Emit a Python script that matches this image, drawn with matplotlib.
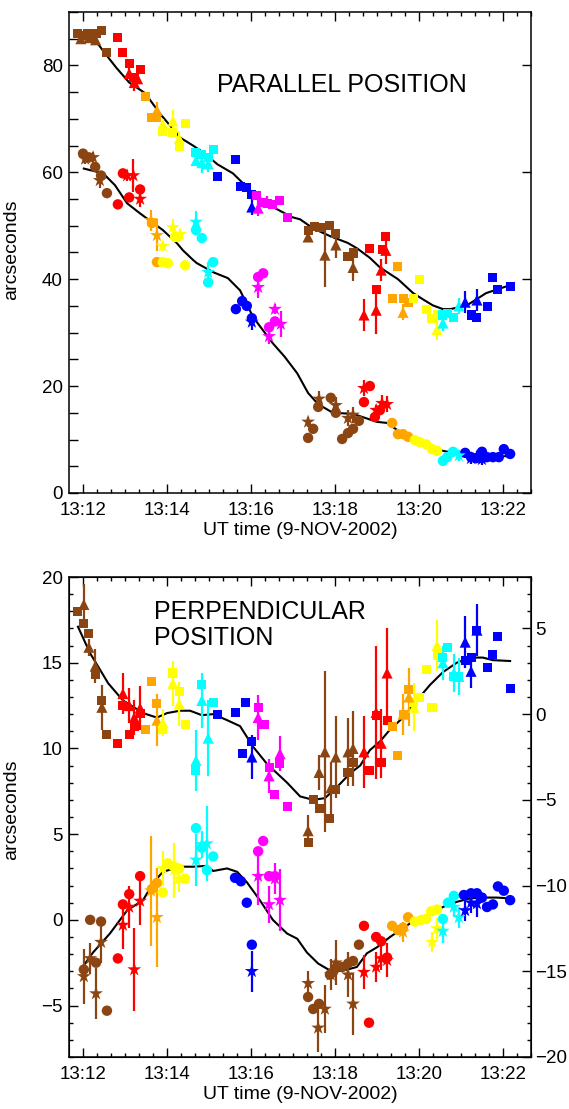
import numpy as np
import matplotlib.pyplot as plt
from matplotlib.ticker import MultipleLocator, FuncFormatter

plt.rcParams['font.family'] = ['Liberation Sans', 'DejaVu Sans']

# all times are minutes after 13:00 UT
# colour of a point follows the time segment it falls in
seg_edges = [12.7, 13.43, 13.83, 14.6, 15.15, 16.1, 17.0, 18.63, 19.3, 19.83, 20.5, 21.02]
seg_colors = ['#8b4513', '#ff0000', '#ffa500', '#ffff00', '#00ffff', '#0000ff', '#ff00ff',
              '#8b4513', '#ff0000', '#ffa500', '#ffff00', '#00ffff', '#0000ff']

# ---- parallel position, upper track (squares, triangles) ----
par_sq_t = [11.86, 11.98, 12.1, 12.21, 12.33, 12.45, 12.57, 12.81, 12.95, 13.1, 13.2, 13.36,
            13.48, 13.62, 13.74, 13.9, 14.14, 14.29, 14.45, 14.69, 14.83, 14.98, 15.1,
            15.21, 15.62, 15.74, 15.9, 16.02, 16.14, 16.29, 16.4, 16.52, 16.69, 16.86,
            17.36, 17.52, 17.64, 17.88, 18.02, 18.29, 18.43, 18.83, 18.98, 19.12, 19.21,
            19.36, 19.5, 19.62, 19.74, 19.88, 20.02, 20.17, 20.31, 20.43, 20.57, 20.69, 20.83,
            21.24, 21.38, 21.64, 21.76, 21.88, 22.19]
par_sq_v = [86.0, 85.6, 86.0, 85.5, 86.0, 86.5, 82.4, 85.2, 82.4, 80.4, 77.8, 79.3,
            74.2, 70.3, 70.3, 67.7, 67.5, 64.9, 69.2, 63.7, 63.4, 62.8, 64.3,
            59.3, 62.4, 57.4, 57.2, 55.9, 55.7, 54.4, 54.2, 54.0, 54.8, 51.6,
            49.2, 49.9, 49.6, 50.1, 48.6, 44.3, 44.9, 45.8, 38.1, 45.6, 47.9,
            36.4, 42.4, 36.3, 35.7, 36.4, 40.0, 34.4, 32.7, 33.4, 33.3, 33.6, 32.9,
            33.3, 32.9, 34.8, 40.4, 38.1, 38.7]
par_tri_t = [11.95, 12.15, 12.3, 13.1, 13.22, 13.3, 13.76, 13.9, 14.14, 14.29, 14.69, 14.83,
             14.98, 16.02, 16.17, 16.38, 17.36, 17.76, 18.02, 18.43, 18.69, 18.98, 19.1,
             19.21, 19.62, 20.43, 20.57, 20.95, 21.1, 21.38]
par_tri_v = [85.0, 85.2, 84.8, 78.5, 76.8, 77.5, 71.6, 69.0, 69.6, 66.3, 62.2, 61.8,
             61.6, 53.5, 53.3, 54.5, 47.9, 44.5, 46.4, 42.2, 33.3, 34.2, 41.7,
             45.4, 33.8, 30.6, 31.8, 35.0, 35.7, 36.1]
par_tri_e = [1.0, 1.0, 1.0, 1.0, 1.5, 1.0, 1.5, 1.0, 2.0, 1.5, 1.0, 2.0,
             1.5, 1.5, 1.5, 1.0, 1.0, 6.0, 2.5, 2.6, 3.0, 4.5, 2.0,
             2.5, 1.5, 2.0, 1.5, 1.5, 2.0, 2.0]

# ---- parallel position, lower track (circles, stars) ----
par_ci_t = [12.0, 12.14, 12.29, 12.43, 12.57, 12.83, 12.95, 13.1, 13.36, 13.64, 13.76,
            13.9, 14.02, 14.19, 14.26, 14.43, 14.69, 14.83, 14.98, 15.1,
            15.64, 15.79, 15.9, 16.02, 16.17, 16.29, 16.43, 16.57,
            17.36, 17.48, 17.6, 17.9, 18.02, 18.17, 18.31, 18.43, 18.57,
            18.69, 18.83, 18.95, 19.07, 19.36, 19.5, 19.62, 19.74,
            19.9, 20.02, 20.17, 20.31, 20.43, 20.57, 20.67, 20.81,
            21.1, 21.24, 21.36, 21.5, 21.62, 21.76, 21.9, 22.02, 22.17]
par_ci_v = [63.5, 62.8, 61.0, 59.4, 56.1, 54.0, 59.8, 55.3, 56.8, 50.5, 43.2,
            43.2, 43.0, 47.9, 47.9, 42.6, 49.2, 47.7, 39.4, 43.2,
            34.4, 35.9, 35.0, 32.7, 40.4, 41.1, 31.0, 32.1,
            10.3, 12.0, 16.1, 17.8, 15.0, 10.1, 11.2, 12.0, 13.5,
            17.0, 20.0, 14.2, 15.5, 13.1, 11.0, 11.0, 10.5,
            9.9, 9.5, 9.1, 8.2, 7.9, 6.0, 6.7, 7.7,
            7.5, 6.7, 6.5, 7.7, 6.7, 6.7, 6.7, 8.2, 7.3]
par_st_t = [12.05, 12.24, 12.4, 13.05, 13.2, 13.36, 13.62, 13.76, 13.9, 14.14, 14.31,
            14.69, 14.98, 16.02, 16.17, 16.43, 16.57, 16.71,
            17.36, 17.62, 18.02, 18.31, 18.43, 18.69, 18.98, 19.12, 19.24,
            20.95, 21.24, 21.38, 21.5]
par_st_v = [62.5, 62.8, 58.5, 59.4, 59.4, 55.0, 51.0, 48.2, 46.2, 49.7, 48.4,
            50.7, 41.3, 32.0, 38.5, 29.3, 34.4, 31.6,
            13.3, 17.6, 16.4, 14.0, 14.6, 19.6, 15.5, 16.8, 16.6,
            7.0, 6.5, 6.8, 6.3]
par_st_e = [1.0, 1.0, 1.5, 1.0, 3.0, 1.5, 2.0, 3.0, 1.0, 1.5, 1.0,
            2.0, 2.0, 1.5, 2.0, 1.5, 1.0, 2.5,
            1.0, 1.5, 1.5, 1.5, 1.5, 1.5, 1.0, 1.5, 1.5,
            1.0, 1.0, 1.0, 1.0]

# smoothed tracks
par_fit1_t = [12.0, 12.24, 12.5, 12.8, 13.1, 13.48, 13.83, 14.1, 14.31, 14.62, 14.9, 15.2,
              15.57, 16.05, 16.52, 16.98, 17.17, 17.48, 17.9, 18.3, 18.52, 18.83, 19.07,
              19.5, 19.86, 20.1, 20.33, 20.57, 20.75, 21.14, 21.6, 22.1]
par_fit1_v = [86.0, 85.3, 82.5, 79.5, 76.8, 74.8, 71.0, 68.5, 66.5, 65.0, 63.5, 61.5,
              59.8, 56.1, 53.5, 51.6, 51.2, 49.5, 48.0, 46.8, 45.8, 44.0, 42.2,
              40.0, 37.4, 36.2, 35.1, 34.4, 34.4, 35.1, 37.4, 38.7]
par_fit2_t = [12.02, 12.48, 12.76, 13.05, 13.36, 13.67, 13.9, 14.24, 14.38, 14.62, 14.71,
              15.1, 15.45, 15.74, 16.05, 16.52, 16.8, 17.1, 17.36, 17.6, 17.95, 18.43,
              19.0, 19.24, 19.55, 19.95, 20.5, 20.81, 21.14, 21.62, 22.1]
par_fit2_v = [60.7, 59.8, 57.6, 54.2, 52.3, 50.5, 49.2, 46.7, 45.4, 43.6, 43.0,
              41.3, 40.2, 37.9, 32.9, 28.0, 25.5, 22.4, 18.7, 16.6, 15.0, 14.8,
              13.3, 13.1, 11.4, 9.5, 8.0, 7.5, 6.9, 6.7, 6.9]

# ---- perpendicular position, upper track (right axis) ----
perp_sq_t = [11.88, 12.02, 12.14, 12.29, 12.45, 12.57, 12.83, 12.95, 13.1, 13.22, 13.36,
             13.48, 13.62, 13.76, 13.9, 14.14, 14.29, 14.45, 14.69, 14.83, 15.1,
             15.21, 15.62, 15.88, 15.79, 16.02, 16.17, 16.31, 16.43, 16.57, 16.69, 16.86,
             17.36, 17.48, 17.62, 17.88, 18.02, 18.31, 18.43, 18.83, 18.98, 19.1, 19.24,
             19.36, 19.5, 19.62, 19.76, 19.88, 20.02, 20.17, 20.31, 20.43,
             20.57, 20.69, 20.83, 20.95, 21.1, 21.24, 21.38, 21.64, 21.76, 21.88, 22.19]
perp_sq_v = [6.0, 5.3, 4.7, 2.3, 0.8, -1.2, -1.7, 0.5, -1.2, -0.7, 0.06,
             -0.9, 1.9, 0.6, -0.9, 2.4, 1.3, -0.6, -3.3, 1.75, 0.7,
             0.0, 0.1, 0.7, -2.3, -1.6, 0.4, -0.6, -3.1, -4.7, -2.9, -5.4,
             -7.5, -5.0, -5.5, -6.1, -4.4, -3.4, -2.8, -3.3, -0.1, -2.8, -0.35,
             -0.7, -2.4, 0.0, 1.45, 0.7, 0.95, 2.6, 0.4, 3.4,
             3.3, 3.9, 2.2, 2.2, 3.15, 3.3, 4.9, 2.7, 3.5, 4.55, 1.5]
perp_tri_t = [12.02, 12.14, 12.29, 12.45, 12.95, 13.1, 13.22, 13.36, 13.76, 13.9, 14.14,
              14.29, 14.69, 14.83, 14.98, 16.02, 16.17, 16.43, 16.69,
              17.36, 17.62, 17.76, 17.9, 18.02, 18.31, 18.43, 18.69, 18.98, 19.1, 19.24,
              19.62, 19.76, 19.88, 20.43, 20.57, 20.83, 20.95, 21.1, 21.24, 21.38]
perp_tri_v = [6.4, 3.9, 2.8, 0.4, 1.2, 0.5, -0.2, 0.35, -0.35, -0.5, 1.8,
              0.6, -2.7, 0.8, -1.4, -2.5, -0.2, -3.6, -2.3,
              -6.8, -3.4, -2.2, -4.3, -2.5, -2.2, -2.0, -2.2, 0.1, -1.7, 2.4,
              0.0, 1.0, 0.4, 4.0, 3.0, 2.4, 2.2, 4.2, 2.5, 4.9]
perp_tri_e = [1.2, 0.5, 1.0, 1.3, 1.2, 1.0, 1.0, 1.3, 1.5, 0.8, 1.3,
              1.3, 1.8, 1.6, 2.2, 1.3, 1.3, 1.0, 1.0,
              0.9, 1.0, 4.7, 1.5, 2.4, 2.0, 2.2, 2.1, 3.9, 2.0, 2.6,
              1.2, 1.7, 1.4, 1.5, 1.0, 1.1, 1.1, 1.5, 1.0, 1.5]

# ---- perpendicular position, lower track (left axis) ----
perp_ci_t = [12.02, 12.17, 12.31, 12.43, 12.57, 12.83, 12.95, 13.1, 13.36, 13.64, 13.76,
             13.9, 14.02, 14.17, 14.29, 14.43, 14.69, 14.83, 14.95, 15.1,
             15.62, 15.76, 15.9, 16.02, 16.17, 16.29, 16.43, 16.57,
             17.36, 17.48, 17.62, 17.88, 17.95, 18.02, 18.17, 18.31, 18.43, 18.57,
             18.69, 18.81, 18.98, 19.1, 19.24, 19.36, 19.5, 19.62, 19.74,
             19.9, 20.05, 20.17, 20.29, 20.43, 20.57, 20.69, 20.83,
             21.07, 21.24, 21.38, 21.5, 21.62, 21.76, 21.88, 22.02, 22.17]
perp_ci_v = [-2.9, 0.0, -2.5, -0.1, -5.3, -2.25, 0.9, 1.5, 2.55, 1.8, 2.15,
             1.6, 3.3, 3.1, 3.0, 2.4, 5.35, 4.2, 2.9, 3.7,
             2.45, 2.25, 1.0, -1.45, 4.0, 4.6, 2.55, 2.55,
             -4.5, -5.2, -4.9, -3.2, -3.05, -2.8, -2.75, -2.55, -2.4, -1.45,
             -0.35, -6.0, -1.0, -1.25, -2.2, -0.35, -0.6, -0.45, 0.15,
             -0.1, 0.0, 0.05, 0.5, 0.6, 0.05, 1.0, 1.4,
             1.45, 1.55, 1.55, 1.3, 0.75, 0.9, 1.95, 1.7, 1.15]
perp_st_t = [12.02, 12.17, 12.31, 12.43, 12.95, 13.1, 13.22, 13.36, 13.62, 13.76,
             13.9, 14.17, 14.29, 14.69, 14.83, 14.95, 16.02, 16.17, 16.43, 16.57, 16.69,
             17.36, 17.6, 17.76, 17.9, 18.02, 18.31, 18.43, 18.69, 18.98, 19.1, 19.24,
             19.62, 20.31, 20.43, 20.57, 20.83, 20.95, 21.1, 21.24, 21.38]
perp_st_v = [-3.3, -2.25, -4.3, -1.3, -0.3, 0.75, -2.9, 1.1, 1.7, 0.15,
             3.0, 2.9, 2.4, 3.5, 4.4, 4.45, -3.0, 2.55, 0.9, 2.4, 1.15,
             -3.7, -6.3, -5.2, -3.2, -2.5, -3.2, -4.9, -3.05, -2.75, -2.25, -2.35,
             -0.7, -1.3, -0.5, -0.65, 0.75, 0.15, 0.55, 1.0, 0.95]
perp_st_e = [1.6, 0.9, 1.5, 1.2, 1.4, 1.2, 2.4, 1.4, 3.2, 2.9,
             1.0, 1.6, 0.8, 1.5, 0.8, 2.2, 1.2, 1.7, 1.1, 0.9, 1.8,
             0.7, 1.4, 1.4, 0.9, 1.3, 1.3, 1.8, 1.0, 0.9, 0.7, 1.0,
             0.6, 0.6, 0.6, 0.7, 0.6, 0.6, 0.6, 0.6, 0.8]

perp_fit1_t = [11.88, 12.17, 12.6, 12.95, 13.43, 13.76, 14.0, 14.31, 14.55, 14.83, 15.1,
               15.43, 15.74, 16.05, 16.38, 16.86, 17.17, 17.48, 17.76, 18.05, 18.36, 18.6,
               18.83, 19.07, 19.31, 19.62, 19.95, 20.26, 20.57, 20.9, 21.21, 21.52, 21.76, 22.17]
perp_fit1_v = [5.1, 3.55, 1.8, 0.8, 0.06, -0.2, 0.06, 0.2, 0.2, -0.06, 0.0,
               -0.35, -0.7, -1.9, -2.9, -4.0, -4.8, -5.0, -4.9, -4.25, -3.45, -3.0,
               -2.1, -1.6, -0.9, -0.2, 0.8, 1.7, 2.45, 3.0, 3.3, 3.3, 3.15, 3.1]
perp_fit2_t = [12.02, 12.24, 12.64, 13.05, 13.43, 13.67, 13.9, 14.31, 14.62, 14.95, 15.1,
               15.43, 15.67, 15.9, 16.21, 16.52, 16.86, 17.1, 17.33, 17.6, 17.95, 18.29,
               18.52, 18.76, 19.0, 19.31, 19.55, 19.79, 20.02, 20.33, 20.57, 20.9, 21.21,
               21.52, 21.86, 22.17]
perp_fit2_v = [-2.65, -1.9, -0.8, 0.55, 1.15, 2.15, 2.8, 3.1, 3.1, 3.15, 2.85,
               3.0, 2.8, 2.2, 1.15, 0.0, -0.8, -1.1, -1.9, -2.55, -3.05, -2.9,
               -2.75, -1.95, -1.6, -1.0, -0.6, -0.2, 0.1, 0.4, 0.75, 1.05, 1.25,
               1.3, 1.3, 1.25]


def colors_for(t):
    return [seg_colors[i] for i in np.digitize(t, seg_edges)]


def draw_points(ax, t, v, marker, size, err=None):
    t = np.array(t)
    v = np.array(v)
    cols = colors_for(t)
    if err is not None:
        err = np.array(err)
        ax.vlines(t, v - err, v + err, colors=cols, lw=1.6, zorder=3)
    ax.scatter(t, v, c=cols, marker=marker, s=size ** 2, linewidths=0, zorder=4)


def style_axes(ax, ymaj, ymin, ylen):
    ax.set_xlim(11.667, 22.667)
    ax.xaxis.set_major_locator(MultipleLocator(2))
    ax.xaxis.set_minor_locator(MultipleLocator(1 / 3))
    ax.xaxis.set_major_formatter(FuncFormatter(lambda x, p: '13:%02d' % round(x)))
    ax.yaxis.set_major_locator(MultipleLocator(ymaj))
    ax.yaxis.set_minor_locator(MultipleLocator(ymin))
    ax.tick_params(which='both', direction='in', top=True, labelsize=13.5, width=1)
    ax.tick_params(axis='x', which='major', length=6.5, pad=6.5)
    ax.tick_params(axis='x', which='minor', length=3.2)
    ax.tick_params(axis='y', which='major', length=6.5, pad=4.5)
    ax.tick_params(axis='y', which='minor', length=ylen)
    for s in ax.spines.values():
        s.set_linewidth(1.1)
    ax.set_xlabel('UT time (9-NOV-2002)', fontsize=14, labelpad=2)


fig = plt.figure(figsize=(5.69, 11.09), dpi=100)

# ---------------- parallel ----------------
ax1 = fig.add_axes([0.1213, 0.5555, 0.8119, 0.4337])
ax1.plot(par_fit1_t, par_fit1_v, color='k', lw=1.5, zorder=2)
ax1.plot(par_fit2_t, par_fit2_v, color='k', lw=1.5, zorder=2)
draw_points(ax1, par_sq_t, par_sq_v, 's', 6.5)
draw_points(ax1, par_tri_t, par_tri_v, '^', 8, par_tri_e)
draw_points(ax1, par_ci_t, par_ci_v, 'o', 7.5)
draw_points(ax1, par_st_t, par_st_v, '*', 10.5, par_st_e)
ax1.set_ylim(0, 90)
style_axes(ax1, 20, 5, 6.5)
ax1.tick_params(right=True)
ax1.text(0.32, 0.834, 'PARALLEL POSITION', transform=ax1.transAxes, fontsize=18,
         ha='left', va='baseline')
fig.text(12 / 569, 1 - 250 / 1109, 'arcseconds', rotation=90, fontsize=14,
         ha='center', va='center')

# ---------------- perpendicular ----------------
ax2 = fig.add_axes([0.1213, 0.0469, 0.8119, 0.4328])
ax3 = ax2.twinx()
ax2.plot(perp_fit2_t, perp_fit2_v, color='k', lw=1.5, zorder=2)
ax3.plot(perp_fit1_t, perp_fit1_v, color='k', lw=1.5, zorder=2)
draw_points(ax3, perp_sq_t, perp_sq_v, 's', 6.5)
draw_points(ax3, perp_tri_t, perp_tri_v, '^', 8, perp_tri_e)
draw_points(ax2, perp_ci_t, perp_ci_v, 'o', 7.5)
draw_points(ax2, perp_st_t, perp_st_v, '*', 10.5, perp_st_e)
ax2.set_ylim(-8, 20)
ax3.set_ylim(-20, 8)
style_axes(ax2, 5, 1, 3.2)
ax2.tick_params(right=False)
ax3.yaxis.set_major_locator(MultipleLocator(5))
ax3.yaxis.set_minor_locator(MultipleLocator(1))
ax3.tick_params(which='both', direction='in', labelsize=13.5, width=1)
ax3.tick_params(which='major', length=6.5, pad=3)
ax3.tick_params(which='minor', length=3.2)
ax2.text(0.184, 0.9125, 'PERPENDICULAR', transform=ax2.transAxes, fontsize=18,
         ha='left', va='baseline')
ax2.text(0.184, 0.858, 'POSITION', transform=ax2.transAxes, fontsize=18,
         ha='left', va='baseline')
fig.text(12 / 569, 1 - 810 / 1109, 'arcseconds', rotation=90, fontsize=14,
         ha='center', va='center')

fig.savefig('out.png', dpi=100)
